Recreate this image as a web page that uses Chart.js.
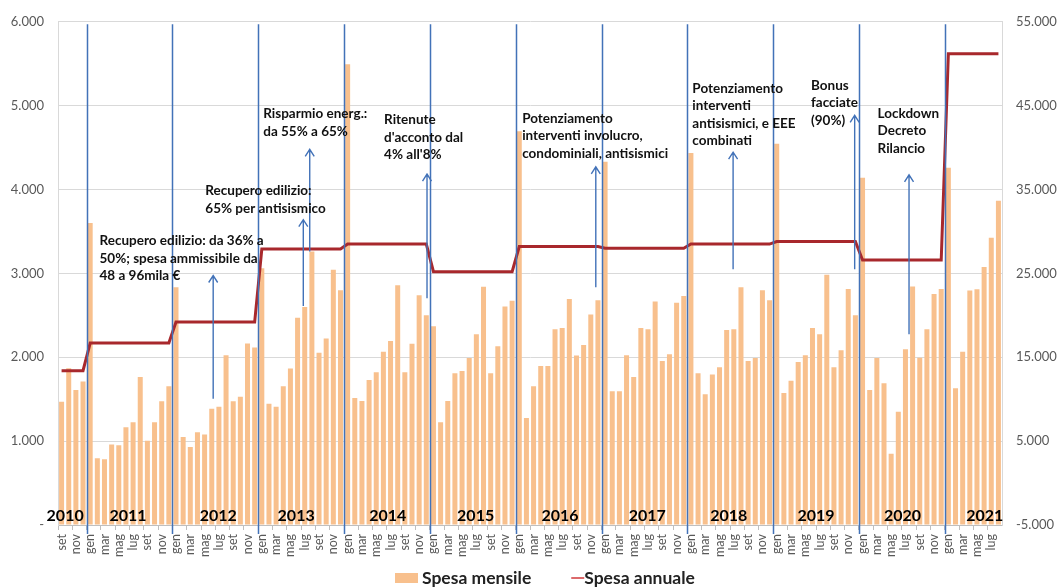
<!DOCTYPE html>
<html>
<head>
<meta charset="utf-8">
<script src="https://cdn.jsdelivr.net/npm/chart.js@4.4.1/dist/chart.umd.min.js"></script>
<style>
  html, body { margin: 0; padding: 0; background: #fff; }
  #wrap { width: 1057px; height: 587px; position: relative; }
</style>
</head>
<body>
<div id="wrap"><canvas id="chart"></canvas></div>
<script>
// ---- data -------------------------------------------------------------------

const MONTHS = ['gen','feb','mar','apr','mag','giu','lug','ago','set','ott','nov','dic'];
const YEARS  = [2010, 2011, 2012, 2013, 2014, 2015, 2016, 2017, 2018, 2019, 2020, 2021];

// monthly spend (left axis); 2010 starts in September, 2021 stops in August
const SPESA_2010 = [1470, 1870, 1610, 1710];
const SPESA_2011 = [3600, 795, 785, 960, 950, 1165, 1225, 1765, 1005, 1225, 1475, 1655];
const SPESA_2012 = [2835, 1050, 930, 1105, 1080, 1385, 1410, 2025, 1475, 1530, 2165, 2115];
const SPESA_2013 = [3060, 1445, 1410, 1655, 1865, 2470, 2600, 3260, 2055, 2225, 3045, 2800];
const SPESA_2014 = [5495, 1515, 1480, 1730, 1820, 2065, 2195, 2860, 1820, 2160, 2740, 2500];
const SPESA_2015 = [2370, 1225, 1480, 1810, 1835, 1990, 2275, 2840, 1810, 2130, 2605, 2675];
const SPESA_2016 = [4695, 1275, 1655, 1895, 1895, 2335, 2350, 2695, 2020, 2145, 2510, 2680];
const SPESA_2017 = [4330, 1595, 1595, 2025, 1765, 2350, 2335, 2665, 1955, 2035, 2650, 2730];
const SPESA_2018 = [4435, 1810, 1560, 1795, 1880, 2325, 2335, 2835, 1955, 1990, 2800, 2680];
const SPESA_2019 = [4545, 1575, 1720, 1945, 2025, 2350, 2275, 2985, 1880, 2085, 2815, 2500];
const SPESA_2020 = [4140, 1610, 1990, 1690, 850, 1350, 2095, 2845, 1995, 2335, 2755, 2815];
const SPESA_2021 = [4260, 1630, 2065, 2795, 2810, 3075, 3425, 3865];

// yearly spend (right axis), one value per year
const SPESA_ANNUALE = [13400, 16700, 19200, 27900, 28500, 25200, 28200, 28000, 28500, 28800, 26600, 51200];

const LEFT_TICKS  = [0, 1000, 2000, 3000, 4000, 5000, 6000];
const RIGHT_TICKS = [-5000, 5000, 15000, 25000, 35000, 45000, 55000];

const NOTES = [
  ['Recupero edilizio: da 36% a', '50%; spesa ammissibile da', '48 a 96mila €'],
  ['Recupero edilizio:', '65% per antisismico'],
  ['Risparmio energ.:', 'da 55% a 65%'],
  ['Ritenute', "d'acconto dal", "4% all'8%"],
  ['Potenziamento', 'interventi involucro,', 'condominiali, antisismici'],
  ['Potenziamento', 'interventi', 'antisismici, e EEE', 'combinati'],
  ['Bonus', 'facciate', '(90%)'],
  ['Lockdown', 'Decreto', 'Rilancio']
];

// ---- build series -----------------------------------------------------------

const monthly = [SPESA_2010, SPESA_2011, SPESA_2012, SPESA_2013, SPESA_2014, SPESA_2015,
                 SPESA_2016, SPESA_2017, SPESA_2018, SPESA_2019, SPESA_2020, SPESA_2021];

const labels = [];
const barData = [];
const lineData = [];
const yearStart = [];   // index of the first bar of each year
monthly.forEach((vals, y) => {
  const first = y === 0 ? 12 - vals.length : 0;
  yearStart.push(labels.length);
  vals.forEach((v, k) => {
    labels.push(MONTHS[first + k]);
    barData.push(v);
    lineData.push(SPESA_ANNUALE[y]);
  });
});

// ---- layout of the drawn overlay (index along x, value on left axis) --------

const NOTE_POS = [
  { at: 5.8,  v: 3390 }, { at: 20.6, v: 3985 }, { at: 28.7, v: 4900 }, { at: 45.6, v: 4830 },
  { at: 64.9, v: 4850 }, { at: 88.7, v: 5205 }, { at: 105.3, v: 5240 }, { at: 114.6, v: 4910 }
];
const ARROWS = [
  { at: 21.2, from: 1505, to: 2975 }, { at: 33.8, from: 2610, to: 3640 },
  { at: 34.7, from: 3260, to: 4480 }, { at: 51.1, from: 2705, to: 4185 },
  { at: 74.7, from: 2835, to: 4270 }, { at: 93.9, from: 3050, to: 4445 },
  { at: 110.9, from: 3050, to: 4885 }, { at: 118.5, from: 2275, to: 4175 }
];
const YEAR_LABEL_AT = [0.5, 9.3, 21.9, 32.8, 45.6, 57.9, 69.7, 81.9, 93.3, 105.5, 117.6, 129.1];

const FONT = 'Lato, "Open Sans", sans-serif';
const BAR_COLOR = '#F8C08D';
const LINE_COLOR = '#A8282C';
const BLUE = '#4272B8';

function fmtThousands(n) {
  const s = Math.abs(n).toString().replace(/\B(?=(\d{3})+(?!\d))/g, '.');
  return (n < 0 ? '-' : '') + s;
}

const overlay = {
  id: 'overlay',
  afterDatasetsDraw(chart) {
    const { ctx, chartArea, scales } = chart;
    const x = scales.x, y = scales.y;
    const step = x.getPixelForValue(1) - x.getPixelForValue(0);
    const xAt = i => x.getPixelForValue(0) + i * step;

    ctx.save();
    // year separators, just left of each January
    ctx.strokeStyle = BLUE;
    ctx.lineWidth = 1.5;
    yearStart.slice(1).forEach(i => {
      const px = Math.round(xAt(i - 0.5)) + 0.5;
      ctx.beginPath();
      ctx.moveTo(px, y.getPixelForValue(5970));
      ctx.lineTo(px, chartArea.bottom + 9);
      ctx.stroke();
    });

    // arrows
    ctx.lineWidth = 1.4;
    ARROWS.forEach(a => {
      const px = xAt(a.at), y0 = y.getPixelForValue(a.from), y1 = y.getPixelForValue(a.to);
      ctx.beginPath();
      ctx.moveTo(px, y0);
      ctx.lineTo(px, y1);
      ctx.moveTo(px - 4.5, y1 + 7);
      ctx.lineTo(px, y1);
      ctx.lineTo(px + 4.5, y1 + 7);
      ctx.stroke();
    });

    // notes
    ctx.fillStyle = '#111';
    ctx.font = 'bold 13.5px ' + FONT;
    ctx.textAlign = 'left';
    ctx.textBaseline = 'middle';
    NOTES.forEach((lines, n) => {
      const p = NOTE_POS[n];
      const px = xAt(p.at) - step / 2, py = y.getPixelForValue(p.v);
      lines.forEach((t, k) => ctx.fillText(t, px, py + k * 17.5));
    });

    // year labels along the bottom
    ctx.font = 'bold 16px ' + FONT;
    ctx.fillStyle = '#000';
    ctx.textAlign = 'center';
    YEARS.forEach((yr, n) => {
      ctx.fillText(String(yr), xAt(YEAR_LABEL_AT[n]), chartArea.bottom - 9);
    });
    ctx.restore();
  },
  afterDraw(chart) {
    const { ctx } = chart;
    ctx.save();
    ctx.font = 'bold 17.5px ' + FONT;
    ctx.textBaseline = 'middle';
    const cy = 578;
    let px = 395;
    ctx.fillStyle = BAR_COLOR;
    ctx.fillRect(px, cy - 5, 23, 10);
    px += 27;
    ctx.fillStyle = '#222';
    ctx.fillText('Spesa mensile', px, cy);
    px += ctx.measureText('Spesa mensile').width + 40;
    ctx.strokeStyle = '#D0393B';
    ctx.lineWidth = 1.5;
    ctx.beginPath();
    ctx.moveTo(px, cy); ctx.lineTo(px + 13, cy);
    ctx.stroke();
    ctx.fillText('Spesa annuale', px + 13, cy);
    ctx.restore();
  }
};

new Chart(document.getElementById('chart'), {
  data: {
    labels,
    datasets: [
      { type: 'line', label: 'Spesa annuale', data: lineData, yAxisID: 'y1', order: 0,
        borderColor: LINE_COLOR, borderWidth: 3, pointRadius: 0, tension: 0 },
      { type: 'bar', label: 'Spesa mensile', data: barData, yAxisID: 'y', order: 1,
        backgroundColor: BAR_COLOR, categoryPercentage: 1, barPercentage: 0.7 }
    ]
  },
  options: {
    responsive: true,
    maintainAspectRatio: false,
    animation: false,
    layout: { padding: { top: 19, left: 0, right: 0, bottom: 0 } },
    plugins: { legend: { display: false }, tooltip: { enabled: false } },
    scales: {
      x: {
        afterFit: s => { s.height = 62; },
        grid: {
          drawOnChartArea: false, tickLength: 5,
          color: c => (c.index % 2 === 0 ? '#BFBFBF' : 'rgba(0,0,0,0)')
        },
        border: { color: '#BFBFBF' },
        ticks: {
          autoSkip: false, minRotation: 90, maxRotation: 90, padding: 4,
          color: '#595959', font: { family: FONT, size: 12.5 },
          callback: (v, i) => (i % 2 === 0 ? labels[i] : '')
        }
      },
      y: {
        position: 'left', min: 0, max: 6000,
        afterFit: s => { s.width = 58; },
        afterBuildTicks: s => { s.ticks = LEFT_TICKS.map(v => ({ value: v })); },
        grid: { color: '#D9D9D9', tickLength: 0 },
        border: { color: '#D9D9D9' },
        ticks: {
          padding: 14, color: '#595959', font: { family: FONT, size: 13 },
          callback: v => (v === 0 ? '-' : fmtThousands(v))
        }
      },
      y1: {
        position: 'right', min: -5000, max: 55000,
        afterFit: s => { s.width = 55; },
        afterBuildTicks: s => { s.ticks = RIGHT_TICKS.map(v => ({ value: v })); },
        grid: { drawOnChartArea: false, tickLength: 0 },
        border: { color: '#D9D9D9' },
        ticks: {
          padding: 14, color: '#595959', font: { family: FONT, size: 13 },
          callback: v => fmtThousands(v)
        }
      }
    }
  },
  plugins: [overlay]
});
</script>
</body>
</html>
